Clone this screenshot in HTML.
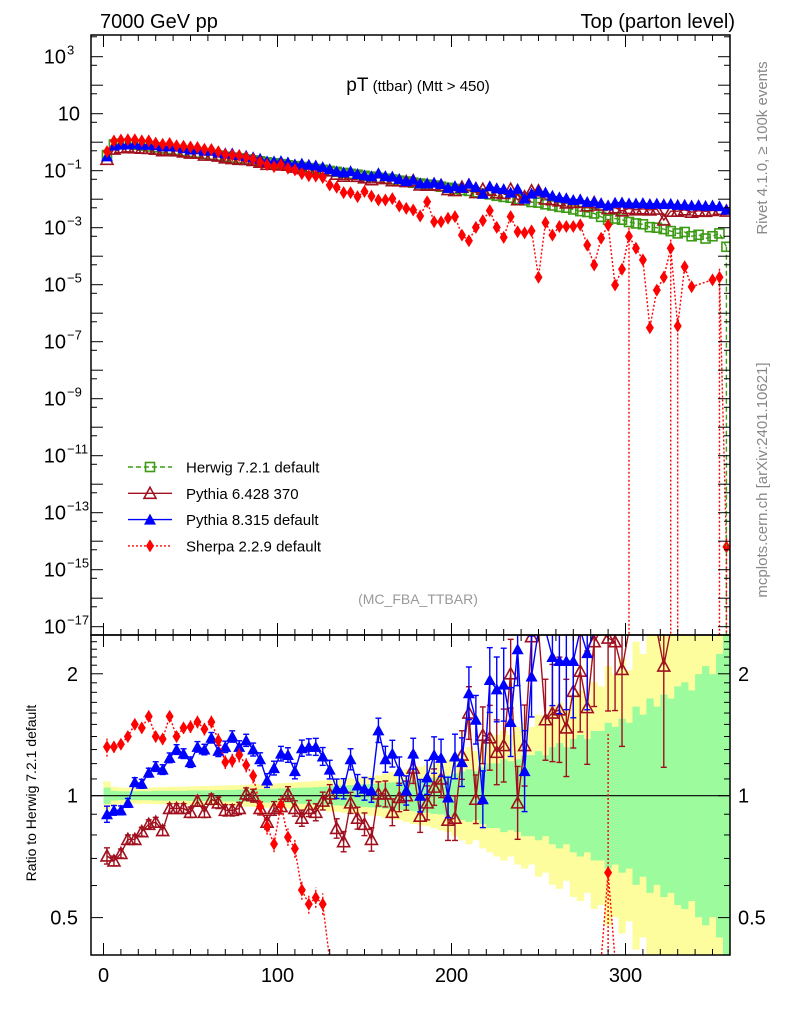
<!DOCTYPE html>
<html><head><meta charset="utf-8"><style>
html,body{margin:0;padding:0;background:#fff;width:786px;height:1024px;overflow:hidden;}
svg{display:block;font-family:"Liberation Sans",Arial,sans-serif;}
</style></head><body>
<svg id="chart" width="786" height="1024" viewBox="0 0 786 1024" xmlns="http://www.w3.org/2000/svg">
<defs>
<clipPath id="clipMain"><rect x="91" y="35" width="639" height="600"/></clipPath>
<clipPath id="clipRatio"><rect x="91" y="635" width="639" height="320"/></clipPath>
</defs>
<text x="100" y="28" font-size="20">7000 GeV pp</text>
<text x="735" y="28" font-size="20" text-anchor="end">Top (parton level)</text>
<text x="418" y="91" text-anchor="middle"><tspan font-size="19">pT</tspan><tspan font-size="15"> (ttbar) (Mtt &gt; 450)</tspan></text>
<text x="418" y="604" text-anchor="middle" font-size="14" fill="#999">(MC_FBA_TTBAR)</text>
<text transform="translate(767,148) rotate(-90)" text-anchor="middle" font-size="15" fill="#888">Rivet 4.1.0, ≥ 100k events</text>
<text transform="translate(767,480) rotate(-90)" text-anchor="middle" font-size="15" fill="#888">mcplots.cern.ch [arXiv:2401.10621]</text>
<text transform="translate(36,793) rotate(-90)" text-anchor="middle" font-size="14">Ratio to Herwig 7.2.1 default</text>
<g id="bands" clip-path="url(#clipRatio)"></g>
<g id="ratioMarks" clip-path="url(#clipRatio)"></g>
<g id="mainMarks" clip-path="url(#clipMain)"></g>
<g id="axes"></g>
<g id="legend"></g>
</svg>
<script>
// ---- data (bins of 4 GeV, centres 2..358) ----
const binCenters = Array.from({length:90},(_,i)=>4*i+2);
const herwigLog = [
-0.45,-0.08,-0.05,-0.06,-0.09,-0.12,-0.15,-0.18,-0.21,-0.24,
-0.27,-0.31,-0.34,-0.37,-0.41,-0.44,-0.47,-0.51,-0.54,-0.57,
-0.61,-0.64,-0.67,-0.71,-0.74,-0.77,-0.81,-0.84,-0.87,-0.91,
-0.94,-0.97,-1.01,-1.04,-1.08,-1.11,-1.14,-1.18,-1.21,-1.25,
-1.28,-1.31,-1.35,-1.38,-1.42,-1.45,-1.49,-1.52,-1.56,-1.60,
-1.64,-1.68,-1.71,-1.76,-1.80,-1.83,-1.88,-1.92,-1.95,-2.00,
-2.04,-2.10,-2.12,-2.18,-2.22,-2.27,-2.30,-2.36,-2.42,-2.45,
-2.50,-2.62,-2.72,-2.68,-2.72,-2.80,-2.85,-2.88,-2.98,-3.00,
-3.05,-3.12,-3.20,-3.15,-3.30,-3.25,-3.38,-3.30,-3.20,-3.67];
const greenErr = [
2,1.2,1.1,1.1,1.1,1.1,1.1,1.2,1.2,1.2, 1.2,1.2,1.3,1.3,1.3,1.3,1.4,1.4,1.4,1.5,
1.5,1.6,1.6,1.7,1.7,1.8,1.8,1.9,2,2, 2.1,2.2,2.3,2.4,2.5,2.6,2.7,2.8,2.9,3,
3.2,3.3,3.5,3.6,3.8,4,4.2,4.5,4.6,5, 5.5,6,6.5,6,7,8,8,9,8.5,9,
10,10,11,10,12,13,12,14,15,14, 16,16,18,17,19,18,22,20,24,22,
25,24,27,28,26,30,32,30,35,40];
const yellowErr = [
3.5,2.2,2,2,2,2,2,2.1,2.1,2.2, 2.2,2.2,2.3,2.3,2.4,2.4,2.5,2.5,2.6,2.6,
2.7,2.8,2.9,3,3,3.1,3.2,3.3,3.4,3.5, 3.6,3.7,3.9,4,4.2,4.3,4.5,4.7,4.9,5,
5.5,5.8,6,6.5,7,7.2,7.5,8,8.5,9, 10,11,12,11,13,14,15,16,15,17,
18,17,20,19,22,23,21,25,26,24, 28,27,32,30,34,31,38,35,42,40,
45,42,50,48,46,55,58,52,60,70];
const py8Ratio = [
0.90,0.92,0.92,0.96,1.08,1.07,1.14,1.18,1.16,1.24,
1.30,1.27,1.21,1.32,1.30,1.39,1.29,1.32,1.40,1.32,
1.37,1.30,1.23,1.09,1.17,1.27,1.26,1.15,1.31,1.32,
1.32,1.25,1.16,1.04,1.04,1.23,1.06,1.04,1.03,1.45,
1.23,1.27,1.15,1.03,1.27,1.00,1.11,1.26,1.24,0.99,
1.25,1.21,1.79,1.54,0.98,1.93,1.83,1.88,1.52,2.30,
1.15,1.97,2.6,2.6,2.2,2.15,2.15,2.15,2.6,2.25,
2.6,3.0,3.2,3.6,4,4.5,5,5.5,6.5,7,
7.5,9,10,9,12,11,14,12,9,20];
const py6Ratio = [
0.71,0.69,0.72,0.78,0.78,0.815,0.85,0.86,0.82,0.93,
0.93,0.93,0.91,0.97,0.91,0.98,0.96,0.92,0.92,0.93,
1.01,1.00,0.93,0.86,0.93,0.94,1.01,0.93,0.88,0.93,
0.91,0.97,1.01,0.83,0.77,0.96,0.88,0.85,0.78,1.01,
1.01,0.91,0.99,1.0,1.17,0.89,0.96,1.05,1.1,0.87,
0.88,1.26,1.6,0.98,1.41,1.39,1.28,1.33,2.0,0.96,
1.33,2.47,2.6,1.54,1.6,1.63,1.47,1.81,2.03,1.65,
2.4,2.6,2.45,2.4,2.05,3,3,3.5,4,4.5,
2.09,5,6,6,7,7,9,8,7,18];
const sherpaRatioHead = [
1.32,1.32,1.34,1.40,1.50,1.47,1.57,1.40,1.38,1.57,
1.40,1.47,1.48,1.52,1.46,1.52,1.37,1.21,1.22,1.26,
1.19,1.12,0.94,0.84,0.76,0.95,0.79,0.74,0.585,0.54,
0.56,0.54];
const sherpaTailLog = [
-1.50,-1.58,-1.77,-1.77,-1.91,-1.73,-1.89,-2.03,-2.03,-1.98,-2.24,
-2.32,-2.38,-2.59,-2.09,-2.79,-2.79,-2.67,-2.61,-3.26,-3.46,
-2.99,-2.75,-2.40,-2.99,-3.34,-2.61,-3.14,-3.18,-3.11,-4.74,
-2.82,-3.26,-2.96,-2.96,-2.96,-2.90,-3.61,-4.31,-3.37,-2.91,
-5.01,-4.46,-3.30,-3.72,-4.13,-6.51,-5.19,-4.74,-3.72,-6.45,
-4.37,-5.07,null,null,-4.83,-4.74,-14.2];
const sherpaMainZeroErrBins = [75,81,82,88,89];
const sherpaRatioBigErrBins = [72];
const xTicks = [0,100,200,300];
const mainYDecades = [3,1,-1,-3,-5,-7,-9,-11,-13,-15,-17];
const ratioTicks = [0.5,1,2];

// ---- scales ----
const X = v => 103.5 + 1.74*v;
const YM = lg => Math.min(640, 56.7 + (3-lg)*28.5);
const YR = r => Math.max(630, Math.min(960, 795.7 - 405*Math.log10(r)));
const NS = 'http://www.w3.org/2000/svg';
function mk(tag, attrs, parent){ const e=document.createElementNS(NS,tag); for(const k in attrs) e.setAttribute(k,attrs[k]); parent.appendChild(e); return e; }

const hw = herwigLog;
const sherpaLog = binCenters.map((v,i)=> i<sherpaRatioHead.length ? hw[i]+Math.log10(sherpaRatioHead[i]) : sherpaTailLog[i-sherpaRatioHead.length]);
const sherpaRatio = sherpaLog.map((l,i)=> l===null?null:Math.pow(10,l-hw[i]));
const py8Log = py8Ratio.map((r,i)=>hw[i]+Math.log10(r));
const py6Log = py6Ratio.map((r,i)=>hw[i]+Math.log10(r));

const C = {hw:'#3c9a14', p6:'#a0101e', p8:'#0000ff', sh:'#ff0000'};

function marker(g, type, x, y, color, name){
  if(y<630 && g.id==='ratioMarks') return null;
  if(y>=959 || (g.id==='mainMarks' && y>=639)) return null;
  let e;
  if(type==='sq') e = mk('rect',{x:x-4.5,y:y-4.5,width:9,height:9,fill:'none',stroke:color,'stroke-width':1.6},g);
  else if(type==='otri') e = mk('polygon',{points:`${x},${y-6} ${x-6},${y+5} ${x+6},${y+5}`,fill:'none',stroke:color,'stroke-width':1.6},g);
  else if(type==='ftri') e = mk('polygon',{points:`${x},${y-6} ${x-6},${y+5} ${x+6},${y+5}`,fill:color},g);
  else e = mk('polygon',{points:`${x},${y-6.5} ${x-4},${y} ${x},${y+6.5} ${x+4},${y}`,fill:color},g);
  
  
  return e;
}
function polyline(g, pts, color, dash, name){
  const e = mk('polyline',{points:pts.map(p=>p.join(',')).join(' '),fill:'none',stroke:color,'stroke-width':1.4},g);
  if(dash) e.setAttribute('stroke-dasharray',dash);
  
  
}

// ---- ratio bands ----
const bands = document.getElementById('bands');
binCenters.forEach((v,i)=>{
  const x0=X(v-2), x1=Math.min(730,X(v+2)+0.3);
  const yw=yellowErr[i]/100;
  const r1 = mk('rect',{x:x0,y:YR(Math.pow(10,yw)),width:x1-x0,height:YR(Math.pow(10,-yw))-YR(Math.pow(10,yw)),fill:'#fdfd9e'},bands);
  
  
});
binCenters.forEach((v,i)=>{
  const x0=X(v-2), x1=Math.min(730,X(v+2)+0.3);
  const gw=greenErr[i]/100;
  const r2 = mk('rect',{x:x0,y:YR(Math.pow(10,gw)),width:x1-x0,height:YR(Math.pow(10,-gw))-YR(Math.pow(10,gw)),fill:'#9cfb9c'},bands);
  
  
});
const one = mk('line',{x1:91,x2:730,y1:795.7,y2:795.7,stroke:'#000','stroke-width':1.2},bands);



// ---- ratio series ----
const rg = document.getElementById('ratioMarks');
function ratioSeries(vals, color, type, dash, name, errScale){
  const pts=[]; vals.forEach((r,i)=>{ if(r!==null) pts.push([X(binCenters[i]), YR(r)]); });
  polyline(rg, pts, color, dash, name+'-ratio-line');
  vals.forEach((r,i)=>{
    if(r===null) return;
    const x=X(binCenters[i]); const e=greenErr[i]/100*errScale;
    let lo = r/Math.pow(10,e), hi=r*Math.pow(10,e);
    if(name==='sherpa' && sherpaRatioBigErrBins.includes(i)){ lo=0.3; hi=r*2.2; }
    if(YR(r)<=630 || YR(r)>=960) return;
    const el = mk('line',{x1:x,x2:x,y1:YR(lo),y2:YR(hi),stroke:color,'stroke-width':1.4},rg);
    if(dash) el.setAttribute('stroke-dasharray',dash);
    
    
    if(!dash){
      const c1 = mk('line',{x1:x-3,x2:x+3,y1:YR(lo),y2:YR(lo),stroke:color,'stroke-width':1.4},rg);
      
      
      const c2 = mk('line',{x1:x-3,x2:x+3,y1:YR(hi),y2:YR(hi),stroke:color,'stroke-width':1.4},rg);
      
      
    }
    marker(rg, type, x, YR(r), color, name+'-ratio-point');
  });
}
ratioSeries(py6Ratio, C.p6, 'otri', null, 'pythia6', 1.0);
ratioSeries(py8Ratio, C.p8, 'ftri', null, 'pythia8', 1.0);
ratioSeries(sherpaRatio, C.sh, 'dia', '2,2', 'sherpa', 1.2);

// ---- main series ----
const mg = document.getElementById('mainMarks');
function mainSeries(logs, color, type, dash, name){
  const pts=[]; logs.forEach((l,i)=>{ if(l!==null) pts.push([X(binCenters[i]), YM(l)]); });
  polyline(mg, pts, color, dash, name+'-line');
  logs.forEach((l,i)=>{ if(l!==null) marker(mg, type, X(binCenters[i]), YM(l), color, name+'-point'); });
}
mainSeries(hw, C.hw, 'sq', '5,3', 'herwig');
mainSeries(py6Log, C.p6, 'otri', null, 'pythia6');
mainSeries(py8Log, C.p8, 'ftri', null, 'pythia8');
mainSeries(sherpaLog, C.sh, 'dia', '2,2', 'sherpa');
{ const x=X(binCenters[89]); const e=mk('line',{x1:x,x2:x,y1:YM(hw[89]),y2:636,stroke:C.hw,'stroke-width':1.4,'stroke-dasharray':'5,3'},mg);
    }
sherpaMainZeroErrBins.forEach(i=>{ if(sherpaLog[i]===null) return; const x=X(binCenters[i]);
  const e=mk('line',{x1:x,x2:x,y1:YM(sherpaLog[i]+0.3),y2:636,stroke:C.sh,'stroke-width':1.4,'stroke-dasharray':'2,2'},mg);
    });

// ---- axes ----
const ax = document.getElementById('axes');
function ln(x1,y1,x2,y2,w,name){ const e=mk('line',{x1,y1,x2,y2,stroke:'#000','stroke-width':w||1},ax);   return e; }
const f1 = mk('rect',{x:91,y:35,width:639,height:600,fill:'none',stroke:'#000','stroke-width':1.5},ax);
 
const f2 = mk('rect',{x:91,y:635,width:639,height:320,fill:'none',stroke:'#000','stroke-width':1.5},ax);
 
for(let v=0; v<=360; v+=10){
  const x=X(v), big = v%100===0, L = big?12:6;
  ln(x,955,x,955-L,1,'x-tick'); ln(x,635,x,635+L,1,'x-tick');
  ln(x,635,x,635-L,1,'x-tick'); ln(x,35,x,35+L,1,'x-tick');
}
xTicks.forEach(v=>{ const t=mk('text',{x:X(v),y:982,'text-anchor':'middle','font-size':20},ax); t.textContent=v;
    });
for(let d=-17; d<=3; d++){
  const y=YM(d); if(y<35||y>635) continue;
  ln(91,y,103,y,1,'main-y-tick'); ln(730,y,718,y,1,'main-y-tick');
  const y5=YM(d+Math.log10(5)-1); if(y5>35&&y5<635){ ln(91,y5,97,y5,1,'main-y-minor-tick'); ln(730,y5,724,y5,1,'main-y-minor-tick'); }
}
{ const y5=YM(3+Math.log10(5)); ln(91,y5,97,y5,1,'main-y-minor-tick'); ln(730,y5,724,y5,1,'main-y-minor-tick'); }
mainYDecades.forEach(d=>{
  const t=mk('text',{x:d===1?80:66,y:YM(d)+7,'text-anchor':'end','font-size':20},ax);
   
  t.textContent='10';
  if(d!==1){ const s=mk('tspan',{'font-size':13,dy:-9,x:67},ax); s.setAttribute('text-anchor','start'); t.appendChild(s);
    s.textContent = d<0 ? '\u2212'+(-d) : String(d);   }
});
for(let k=4;k<=24;k++){ const r=k/10; const y=YR(r); if(y<636||y>954) continue;
  const big = (r===0.5||r===1||r===2); const L=big?12:6;
  ln(91,y,91+L,y,1,'ratio-y-tick'); ln(730,y,730-L,y,1,'ratio-y-tick'); }
ratioTicks.forEach(r=>{
  const t=mk('text',{x:78,y:YR(r)+7,'text-anchor':'end','font-size':20},ax); t.textContent=r;
   
  const t2=mk('text',{x:738,y:YR(r)+7,'font-size':20},ax); t2.textContent=r;
   
});

// ---- legend ----
const lg = document.getElementById('legend');
const legendLabels = ['Herwig 7.2.1 default','Pythia 6.428 370','Pythia 8.315 default','Sherpa 2.2.9 default'];
const legendStyle = [[C.hw,'sq','5,3'],[C.p6,'otri',null],[C.p8,'ftri',null],[C.sh,'dia','2,2']];
legendLabels.forEach((lab,k)=>{
  const y = 467 + k*26.3;
  const [c,t,d] = legendStyle[k];
  const l = mk('line',{x1:128,x2:172,y1:y,y2:y,stroke:c,'stroke-width':1.4},lg);
  if(d) l.setAttribute('stroke-dasharray',d);
   
  marker(lg,t,150,y,c,'legend-marker');
  const tx = mk('text',{x:186,y:y+5.5,'font-size':15},lg); tx.textContent=lab;
   
});
</script>
</body></html>
